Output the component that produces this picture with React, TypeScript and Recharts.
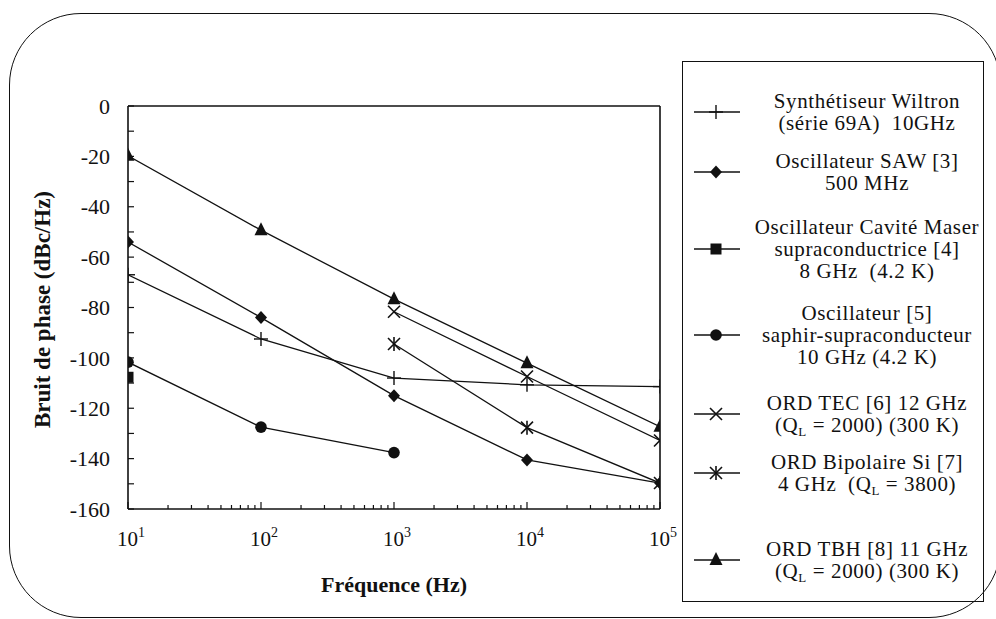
import React from "react";
import { LineChart, Line, XAxis, YAxis, ReferenceLine } from "recharts";

const SERIF = "'Liberation Serif', 'Times New Roman', serif";

// frequencies (Hz)
const fullFreq = [10, 100, 1000, 10000, 100000];
const lowFreq = [10, 100, 1000];
const highFreq = [1000, 10000, 100000];
const maserFreq = [10];

// phase noise (dBc/Hz)
const wiltronNoise = [-67, -92.5, -108, -110.7, -111.4];
const sawNoise = [-54, -84, -115, -140.5, -149.7];
const maserNoise = [-107.7];
const saphirNoise = [-101.7, -127.5, -137.6];
const tecNoise = [-81.7, -107.4, -132.8];
const bipolaireNoise = [-94.5, -127.7, -149.7];
const tbhNoise = [-19.8, -49.3, -76.7, -102.1, -127.3];

// axis ticks
const yTicks = [0, -10, -20, -30, -40, -50, -60, -70, -80, -90, -100, -110, -120, -130, -140, -150, -160];
const yLabelStep = 20;
const decades = [10, 100, 1000, 10000, 100000];
const decadeExponents = ["1", "2", "3", "4", "5"];
const minorMultipliers = [1, 2, 3, 4, 5, 6, 7, 8, 9];

const xTicks = [
  ...decades.slice(0, -1).flatMap((d) => minorMultipliers.map((m) => m * d)),
  decades[decades.length - 1],
];

type Shape = "plus" | "diamond" | "square" | "circle" | "cross" | "asterisk" | "triangle";

const zip = (f: number[], v: number[]) => f.map((x, i) => ({ f: x, v: v[i] }));

const series: { key: string; shape: Shape; freq: number[]; noise: number[]; legend: string[] }[] = [
  { key: "wiltron", shape: "plus", freq: fullFreq, noise: wiltronNoise, legend: ["Synthétiseur Wiltron", "(série 69A)  10GHz"] },
  { key: "saw", shape: "diamond", freq: fullFreq, noise: sawNoise, legend: ["Oscillateur SAW [3]", "500 MHz"] },
  { key: "maser", shape: "square", freq: maserFreq, noise: maserNoise, legend: ["Oscillateur Cavité Maser", "supraconductrice [4]", "8 GHz  (4.2 K)"] },
  { key: "saphir", shape: "circle", freq: lowFreq, noise: saphirNoise, legend: ["Oscillateur [5]", "saphir-supraconducteur", "10 GHz (4.2 K)"] },
  { key: "tec", shape: "cross", freq: highFreq, noise: tecNoise, legend: ["ORD TEC [6] 12 GHz", "(Q_L = 2000) (300 K)"] },
  { key: "bipolaire", shape: "asterisk", freq: highFreq, noise: bipolaireNoise, legend: ["ORD Bipolaire Si [7]", "4 GHz  (Q_L = 3800)"] },
  { key: "tbh", shape: "triangle", freq: fullFreq, noise: tbhNoise, legend: ["ORD TBH [8] 11 GHz", "(Q_L = 2000) (300 K)"] },
];

// legend row centres (px, page coords)
const legendRowY = [112, 172, 249, 335, 414, 473, 560];
const LEGEND_LINE = 22;

const INK = "#111";

function Marker({ shape, cx, cy }: { shape: Shape; cx: number; cy: number }) {
  const sw = 1.4;
  switch (shape) {
    case "plus":
      return (
        <g stroke={INK} strokeWidth={sw}>
          <line x1={cx - 7} x2={cx + 7} y1={cy} y2={cy} />
          <line x1={cx} x2={cx} y1={cy - 7} y2={cy + 7} />
        </g>
      );
    case "diamond":
      return <polygon points={`${cx},${cy - 6.5} ${cx + 6},${cy} ${cx},${cy + 6.5} ${cx - 6},${cy}`} fill={INK} />;
    case "square":
      return <rect x={cx - 5.5} y={cy - 5.5} width={11} height={11} fill={INK} />;
    case "circle":
      return <circle cx={cx} cy={cy} r={5.8} fill={INK} />;
    case "cross":
      return (
        <g stroke={INK} strokeWidth={sw + 0.2}>
          <line x1={cx - 6} x2={cx + 6} y1={cy - 6} y2={cy + 6} />
          <line x1={cx - 6} x2={cx + 6} y1={cy + 6} y2={cy - 6} />
        </g>
      );
    case "asterisk":
      return (
        <g stroke={INK} strokeWidth={sw + 0.2}>
          <line x1={cx - 6} x2={cx + 6} y1={cy - 6} y2={cy + 6} />
          <line x1={cx - 6} x2={cx + 6} y1={cy + 6} y2={cy - 6} />
          <line x1={cx} x2={cx} y1={cy - 7} y2={cy + 7} />
        </g>
      );
    case "triangle":
      return <polygon points={`${cx},${cy - 8} ${cx + 6.5},${cy + 5} ${cx - 6.5},${cy + 5}`} fill={INK} />;
  }
}

function XTick(props: any) {
  const { x, y, payload } = props;
  const idx = decades.indexOf(payload.value);
  const major = idx >= 0;
  return (
    <g>
      <line x1={x} x2={x} y1={y} y2={y - (major ? 7 : 4)} stroke={INK} strokeWidth={1.2} />
      {major && (
        <text x={x + 3} y={y + 37} textAnchor="middle" fontFamily={SERIF} fontSize={21} fill={INK}>
          10
          <tspan dy={-9} fontSize={14}>
            {decadeExponents[idx]}
          </tspan>
        </text>
      )}
    </g>
  );
}

function YTick(props: any) {
  const { x, y, payload } = props;
  const v = payload.value as number;
  return (
    <g>
      <line x1={x} x2={x + 6} y1={y} y2={y} stroke={INK} strokeWidth={1.2} />
      {v % yLabelStep === 0 && (
        <text x={x - 18} y={y} dy="0.35em" textAnchor="end" fontFamily={SERIF} fontSize={22} fill={INK}>
          {String(v)}
        </text>
      )}
    </g>
  );
}

function LegendText({ text }: { text: string }) {
  const parts = text.split("Q_L");
  return (
    <div style={{ whiteSpace: "pre", height: LEGEND_LINE }}>
      {parts.map((p, i) => (
        <React.Fragment key={i}>
          {i > 0 && (
            <span>
              Q<span style={{ fontSize: 13, position: "relative", top: 4 }}>L</span>
            </span>
          )}
          {p}
        </React.Fragment>
      ))}
    </div>
  );
}

export default function App() {
  return (
    <div
      style={{
        position: "absolute",
        left: 0,
        top: 0,
        width: 996,
        height: 619,
        overflow: "hidden",
        background: "#fff",
        fontFamily: SERIF,
        color: INK,
      }}
    >
      <LineChart width={996} height={619} margin={{ top: 106, right: 336, bottom: 0, left: 0 }}>
        <XAxis
          dataKey="f"
          type="number"
          scale="log"
          domain={[10, 100000]}
          ticks={xTicks}
          interval={0}
          height={110}
          tickSize={0}
          tickMargin={0}
          tickLine={false}
          tick={<XTick />}
          axisLine={{ stroke: INK, strokeWidth: 1.6 }}
          allowDataOverflow
          label={{
            content: (p: any) => {
              const vb = p.viewBox;
              return (
                <text
                  x={vb.x + vb.width / 2}
                  y={vb.y + 83}
                  textAnchor="middle"
                  fontFamily={SERIF}
                  fontWeight="bold"
                  fontSize={22}
                  fill={INK}
                >
                  Fréquence (Hz)
                </text>
              );
            },
          }}
        />
        <YAxis
          dataKey="v"
          type="number"
          domain={[-160, 0]}
          ticks={yTicks}
          interval={0}
          width={128}
          tickSize={0}
          tickMargin={0}
          tickLine={false}
          tick={<YTick />}
          axisLine={{ stroke: INK, strokeWidth: 1.6 }}
          label={{
            content: (p: any) => {
              const vb = p.viewBox;
              const cx = vb.x + 42;
              const cy = vb.y + vb.height / 2 + 2;
              return (
                <text
                  x={cx}
                  y={cy}
                  transform={`rotate(-90 ${cx} ${cy})`}
                  textAnchor="middle"
                  dominantBaseline="central"
                  fontFamily={SERIF}
                  fontWeight="bold"
                  fontSize={23}
                  fill={INK}
                >
                  Bruit de phase (dBc/Hz)
                </text>
              );
            },
          }}
        />
        <ReferenceLine y={0} stroke={INK} strokeWidth={1.4} />
        <ReferenceLine x={100000} stroke={INK} strokeWidth={1.6} />
        {series.map((s) => (
          <Line
            key={s.key}
            data={zip(s.freq, s.noise)}
            dataKey="v"
            stroke={INK}
            strokeWidth={1.3}
            isAnimationActive={false}
            dot={(p: any) => <Marker key={`${s.key}-${p.index}`} shape={s.shape} cx={p.cx} cy={p.cy} />}
            activeDot={false}
          />
        ))}
      </LineChart>

      {/* legend box */}
      <div
        style={{
          position: "absolute",
          left: 682,
          top: 61,
          width: 302,
          height: 541,
          border: `1.5px solid ${INK}`,
          boxSizing: "border-box",
        }}
      />
      {series.map((s, i) => (
        <React.Fragment key={s.key}>
          <svg
            style={{ position: "absolute", left: 690, top: legendRowY[i] - 12 }}
            width={56}
            height={24}
          >
            <line x1={4} x2={50} y1={12} y2={12} stroke={INK} strokeWidth={1.5} />
            <Marker shape={s.shape} cx={26} cy={12} />
          </svg>
          <div
            style={{
              position: "absolute",
              left: 744,
              width: 246,
              top: legendRowY[i] - (s.legend.length * LEGEND_LINE) / 2,
              textAlign: "center",
              fontSize: 21,
              letterSpacing: "0.6px",
              lineHeight: `${LEGEND_LINE}px`,
            }}
          >
            {s.legend.map((t, j) => (
              <LegendText key={j} text={t} />
            ))}
          </div>
        </React.Fragment>
      ))}

      {/* rounded frame */}
      <div
        style={{
          position: "absolute",
          left: 9,
          top: 13,
          width: 992,
          height: 605,
          border: `1.5px solid ${INK}`,
          borderRadius: 72,
          boxSizing: "border-box",
          pointerEvents: "none",
        }}
      />
    </div>
  );
}
